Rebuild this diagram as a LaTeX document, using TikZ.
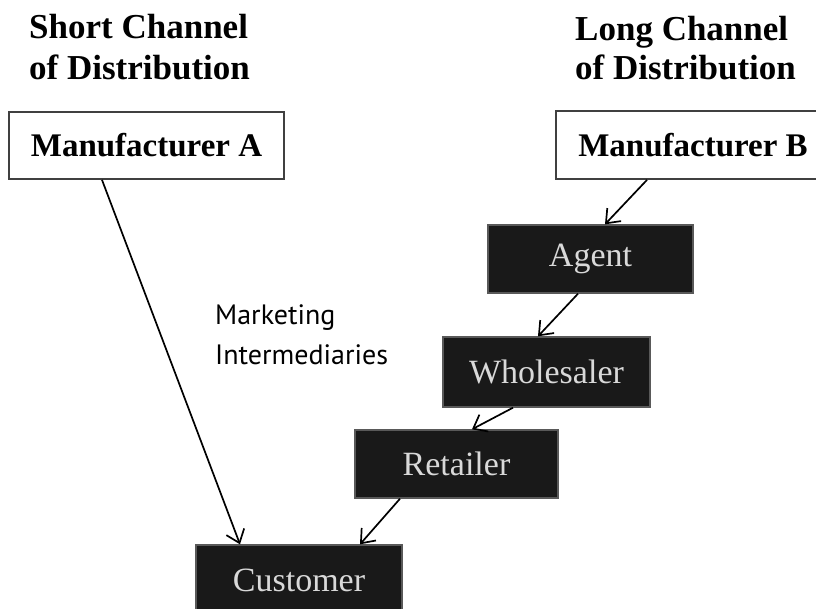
\documentclass[tikz,border=0pt]{standalone}
\usepackage{fontspec}
\setmainfont{Liberation Serif}
\newfontfamily\labsans{PT Sans}
\usetikzlibrary{arrows.meta}
\tikzset{
  titletext/.style={anchor=base west, inner sep=0pt, font=\fontsize{35pt}{40pt}\selectfont\bfseries},
  whitebox/.style={draw=black!75, line width=1.8pt, fill=white, minimum width=#1, minimum height=68pt, inner sep=0pt, font=\fontsize{33pt}{38pt}\selectfont\bfseries},
  darkbox/.style={draw=black!65, line width=1.4pt, fill=black!90, text=black!15, minimum width=#1, minimum height=68pt, inner sep=0pt, font=\fontsize{34pt}{38pt}\selectfont},
  flow/.style={line width=1.7pt, -{Straight Barb[length=12pt,width=19pt,line width=1.7pt]}},
  note/.style={anchor=base west, inner sep=0pt, font=\labsans\fontsize{28pt}{34pt}\selectfont}
}
\begin{document}
\begin{tikzpicture}[x=1pt,y=-1pt]
\useasboundingbox (0,0) rectangle (816,609);
\fill[white] (0,0) rectangle (816,609);
% titles
\node[titletext] (ts1) at (29,39) {Short Channel};
\node[titletext] (ts2) at (29,80) {of Distribution};
\node[titletext] (tl1) at (575,41) {Long Channel};
\node[titletext] (tl2) at (575,80) {of Distribution};
% boxes
\node[whitebox=275pt, minimum height=67pt] (ma) at (146.5,145.5) {Manufacturer A};
\node[whitebox=274pt] (mb) at (693,145) {Manufacturer B};
\node[darkbox=205pt] (ag) at (590.5,259) {Agent};
\node[darkbox=207pt, minimum height=70pt] (wh) at (546.5,372) {Wholesaler};
\node[darkbox=203pt] (re) at (456.5,464) {Retailer};
\node[darkbox=206pt, minimum height=70pt] (cu) at (299,580) {Customer};
% note
\node[note] (n1) at (215,324) {Marketing};
\node[note] (n2) at (215,364) {Intermediaries};
% arrows
\draw[flow] ([xshift=-44.5pt]ma.south) -- ([xshift=-59pt]cu.north);
\draw[flow] ([xshift=-46pt]mb.south) -- ([xshift=14.5pt]ag.north);
\draw[flow] ([xshift=-12.5pt]ag.south) -- ([xshift=-8.5pt]wh.north);
\draw[flow] ([xshift=-33.5pt]wh.south) -- ([xshift=15.5pt]re.north);
\draw[flow] ([xshift=-56.5pt]re.south) -- ([xshift=61pt]cu.north);
\end{tikzpicture}
\end{document}
